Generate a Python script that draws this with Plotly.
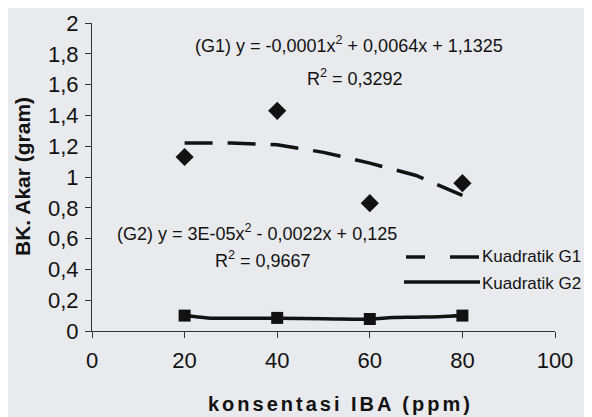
import plotly.graph_objects as go

# ---- data ----
konsentrasi = [20, 40, 60, 80]
g1_obs = [1.13, 1.43, 0.83, 0.96]
g2_obs = [0.10, 0.085, 0.078, 0.10]

g1_trend_x = [20, 30, 40, 50, 60, 70, 80]
g1_trend_y = [1.22, 1.22, 1.21, 1.16, 1.09, 1.01, 0.88]

g2_trend_x = [20, 25, 30, 40, 50, 60, 65, 70, 75, 80]
g2_trend_y = [0.10, 0.085, 0.083, 0.083, 0.080, 0.077, 0.088, 0.090, 0.093, 0.10]

x_ticks = [0, 20, 40, 60, 80, 100]
x_ticklabels = ["0", "20", "40", "60", "80", "100"]
y_ticks = [0, 0.2, 0.4, 0.6, 0.8, 1.0, 1.2, 1.4, 1.6, 1.8, 2.0]
y_ticklabels = ["0", "0,2", "0,4", "0,6", "0,8", "1", "1,2", "1,4", "1,6", "1,8", "2"]

eq_g1 = "(G1) y = -0,0001x<sup>2</sup> + 0,0064x + 1,1325"
r2_g1 = "R<sup>2</sup> = 0,3292"
eq_g2 = "(G2) y = 3E-05x<sup>2</sup> - 0,0022x + 0,125"
r2_g2 = "R<sup>2</sup> = 0,9667"
legend_names = ["Kuadratik G1", "Kuadratik G2"]

# ---- layout geometry (window pixels; page body has an 8px margin) ----
OFF = 8
WIN_W, WIN_H = 592, 417
PL, PR, PT, PB = 92, 555, 23, 331   # plot area in window pixels
W, H = WIN_W - OFF, WIN_H - OFF
L, T = PL - OFF, PT - OFF
R, B = WIN_W - PR, WIN_H - PB


def px(xp):
    return (xp - PL) / (PR - PL)


def py(yp):
    return (PB - yp) / (PB - PT)


INK = "#121212"
BG = "#e8eaed"
FONT = "Liberation Sans, Arial, sans-serif"

fig = go.Figure()

fig.add_trace(go.Scatter(
    x=g1_trend_x, y=g1_trend_y, mode="lines",
    line=dict(color=INK, width=3.5, dash="28px,15px"),
    showlegend=False, hoverinfo="skip"))
fig.add_trace(go.Scatter(
    x=g2_trend_x, y=g2_trend_y, mode="lines",
    line=dict(color=INK, width=3.5, shape="spline"),
    showlegend=False, hoverinfo="skip"))
fig.add_trace(go.Scatter(
    x=konsentrasi, y=g1_obs, mode="markers",
    marker=dict(symbol="diamond", size=14, color=INK),
    showlegend=False))
fig.add_trace(go.Scatter(
    x=konsentrasi, y=g2_obs, mode="markers",
    marker=dict(symbol="square", size=12, color=INK),
    showlegend=False))

annotations = [
    dict(text=eq_g1, x=px(193), y=py(45), xanchor="left", yanchor="middle",
         font=dict(size=18, color=INK, family=FONT)),
    dict(text=r2_g1, x=px(305), y=py(77), xanchor="left", yanchor="middle",
         font=dict(size=18, color=INK, family=FONT)),
    dict(text=eq_g2, x=px(115), y=py(232), xanchor="left", yanchor="middle",
         font=dict(size=18, color=INK, family=FONT)),
    dict(text=r2_g2, x=px(213), y=py(259), xanchor="left", yanchor="middle",
         font=dict(size=18, color=INK, family=FONT)),
    dict(text=legend_names[0], x=px(481), y=py(256), xanchor="left", yanchor="middle",
         font=dict(size=17, color=INK, family=FONT), borderpad=0),
    dict(text=legend_names[1], x=px(481), y=py(283), xanchor="left", yanchor="middle",
         font=dict(size=17, color=INK, family=FONT), borderpad=0),
    dict(text="<b>BK. Akar (gram)</b>", x=px(22), y=py(177), textangle=-90,
         xanchor="center", yanchor="middle",
         font=dict(size=21, color=INK, family=FONT)),
    dict(text="<b><span style='letter-spacing:3px'>konsentasi IBA (ppm)</span></b>",
         x=px(340), y=py(404), xanchor="center", yanchor="middle",
         font=dict(size=20, color=INK, family=FONT)),
]
for a in annotations:
    a.update(xref="paper", yref="paper", showarrow=False)

shapes = [
    dict(type="line", x0=px(406), x1=px(425), y0=py(257), y1=py(257)),
    dict(type="line", x0=px(450), x1=px(479), y0=py(257), y1=py(257)),
    dict(type="line", x0=px(404), x1=px(480), y0=py(282), y1=py(282)),
]
for s in shapes:
    s.update(xref="paper", yref="paper", line=dict(color=INK, width=3.5))

fig.update_layout(
    width=W, height=H,
    margin=dict(l=L, r=R, t=T, b=B, autoexpand=False),
    paper_bgcolor=BG, plot_bgcolor=BG,
    font=dict(family=FONT, color=INK),
    annotations=annotations, shapes=shapes,
    showlegend=False,
)
fig.update_xaxes(
    range=[0, 100], tickvals=x_ticks, ticktext=x_ticklabels,
    showgrid=False, zeroline=False, showline=True, linecolor="#333", linewidth=1,
    ticks="outside", ticklen=6, tickcolor="#333", ticklabelstandoff=4,
    tickfont=dict(size=22, color=INK, family=FONT), fixedrange=True,
)
fig.update_yaxes(
    range=[0, 2], tickvals=y_ticks, ticktext=y_ticklabels,
    showgrid=False, zeroline=False, showline=True, linecolor="#333", linewidth=1,
    ticks="outside", ticklen=6, tickcolor="#333", ticklabelstandoff=2,
    tickfont=dict(size=22, color=INK, family=FONT), fixedrange=True,
)

fig.write_html("out.html")
